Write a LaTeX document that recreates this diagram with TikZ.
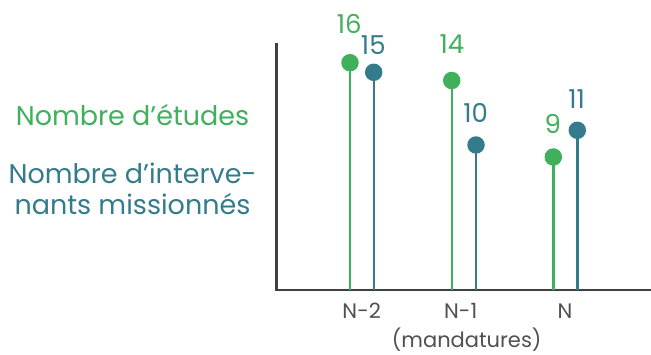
\documentclass[tikz,border=0pt]{standalone}
\usepackage{fontspec}
\setmainfont{Poppins}
\definecolor{cgreen}{RGB}{64,176,92}
\definecolor{cteal}{RGB}{52,124,140}
\definecolor{caxis}{RGB}{64,64,64}
\definecolor{ctext}{RGB}{80,80,80}
\tikzset{
  dotg/.style={circle,fill=cgreen,inner sep=0pt,minimum size=17.5pt},
  dott/.style={circle,fill=cteal,inner sep=0pt,minimum size=17.5pt},
  stemg/.style={draw=cgreen,line width=2.4pt},
  stemt/.style={draw=cteal,line width=2.4pt},
  axisline/.style={draw=caxis,line width=2.5pt},
  valg/.style={anchor=base,text=cgreen,font=\fontsize{26}{26}\selectfont,inner sep=0pt},
  valt/.style={anchor=base,text=cteal,font=\fontsize{26}{26}\selectfont,inner sep=0pt},
  ticklab/.style={anchor=base,text=ctext,font=\fontsize{21}{21}\selectfont,inner sep=0pt},
  legend/.style={anchor=base,font=\fontsize{27}{31}\selectfont,inner sep=0pt,align=center}
}
\begin{document}
\begin{tikzpicture}[x=1pt,y=1pt]
\useasboundingbox (0,0) rectangle (651,354);
% axes
\coordinate (axtop) at (276.7,310.7);
\coordinate (origin) at (276.7,64);
\coordinate (axright) at (651,64);
\draw[axisline] (axtop) -- (origin) -- (axright);
% bases
\coordinate (bg1) at (350,64);
\coordinate (bt1) at (373.7,64);
\coordinate (bg2) at (451.7,64);
\coordinate (bt2) at (476,64);
\coordinate (bg3) at (553.3,64);
\coordinate (bt3) at (577.3,64);
% dots
\node[dotg] (g1) at (350,291.3) {};
\node[dott] (t1) at (373.7,281.7) {};
\node[dotg] (g2) at (451.7,273.5) {};
\node[dott] (t2) at (476,209) {};
\node[dotg] (g3) at (553.3,197) {};
\node[dott] (t3) at (577.3,223.7) {};
% stems
\draw[stemg] (bg1) -- (g1.center);
\draw[stemt] (bt1) -- (t1.center);
\draw[stemg] (bg2) -- (g2.center);
\draw[stemt] (bt2) -- (t2.center);
\draw[stemg] (bg3) -- (g3.center);
\draw[stemt] (bt3) -- (t3.center);
% values
\node[valg] (v16) at (349.3,320.7) {16};
\node[valt] (v15) at (373.3,299) {15};
\node[valg] (v14) at (452,300) {14};
\node[valt] (v10) at (475.7,231.3) {10};
\node[valg] (v9) at (552.7,220.7) {9};
\node[valt] (v11) at (576.7,245.7) {11};
% ticks
\node[ticklab] (n2) at (361.7,35.7) {N-2};
\node[ticklab] (n1) at (460.7,35.7) {N-1};
\node[ticklab] (n0) at (565,35.7) {N};
\node[ticklab] (mand) at (466.7,6.5) {(mandatures)};
% legend
\node[legend,text=cgreen] (l1) at (132.5,228) {Nombre d’études};
\node[legend,text=cteal,anchor=north] (l2) at (132.5,191) {Nombre d’interve-\\nants missionnés};
\end{tikzpicture}
\end{document}
